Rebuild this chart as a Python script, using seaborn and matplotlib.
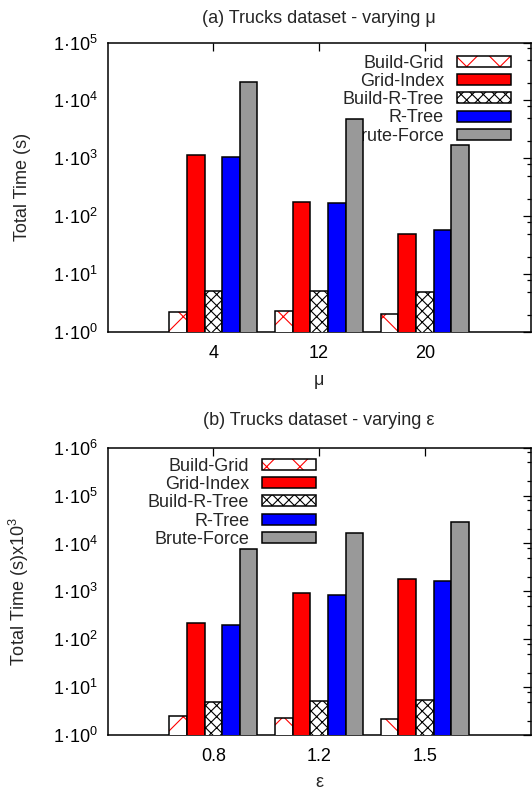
import numpy as np
import pandas as pd
import seaborn as sns
import matplotlib
matplotlib.use("Agg")
import matplotlib.pyplot as plt
import matplotlib.colors as mcolors
from matplotlib.ticker import LogLocator, FixedLocator, FuncFormatter, NullFormatter

methods = ["Build-Grid", "Grid-Index", "Build-R-Tree", "R-Tree", "Brute-Force"]
colors = ["white", "#ff0000", "white", "#0000ff", "#999999"]
hatches = ["x", "", "xxx", "", ""]

# (a) varying mu
mu_labels = ["4", "12", "20"]
mu_build_grid = [2.2, 2.3, 2.03]
mu_grid_index = [1150, 179, 49.7]
mu_build_rtree = [5.15, 5.15, 4.95]
mu_rtree = [1060, 167, 57]
mu_brute = [20400, 4700, 1680]

# (b) varying eps
eps_labels = ["0.8", "1.2", "1.5"]
eps_build_grid = [2.44, 2.22, 2.15]
eps_grid_index = [217, 925, 1800]
eps_build_rtree = [5.0, 5.1, 5.5]
eps_rtree = [200, 840, 1640]
eps_brute = [7700, 16500, 28000]

FS = 13

sns.set_style("white")
plt.rcParams["font.family"] = ["Liberation Sans", "DejaVu Sans"]
plt.rcParams["mathtext.fontset"] = "custom"
plt.rcParams["mathtext.rm"] = "Liberation Sans"
plt.rcParams["mathtext.it"] = "Liberation Sans:italic"
plt.rcParams["mathtext.bf"] = "Liberation Sans:bold"
plt.rcParams["mathtext.default"] = "regular"
plt.rcParams["hatch.linewidth"] = 0.8


def long_df(labels, series):
    rows = []
    for m, vals in zip(methods, series):
        for lab, v in zip(labels, vals):
            rows.append({"x": lab, "method": m, "time": v})
    return pd.DataFrame(rows)


def draw(ax, df, order, ymax_exp, title, title_pad, xlabel, xlab_y, ylabel, anchor):
    ax.set_yscale("log")
    sns.barplot(data=df, x="x", y="time", hue="method", order=order,
                hue_order=methods, palette=dict(zip(methods, colors)),
                width=5 / 6, errorbar=None, legend=False, saturation=1,
                edgecolor="black", linewidth=1.1, zorder=3, ax=ax)
    for cont, h in zip(ax.containers, hatches):
        for p in cont.patches:
            p.set_hatch(h)
            if h == "x":
                p._hatch_color = mcolors.to_rgba("red")
    ax.set_xlim(-1, 3)
    ax.set_ylim(1, 10 ** ymax_exp)
    ax.yaxis.set_major_locator(FixedLocator([10.0 ** k for k in range(ymax_exp + 1)]))
    ax.yaxis.set_minor_locator(LogLocator(base=10, subs=(2, 5, 8), numticks=20))
    ax.yaxis.set_minor_formatter(NullFormatter())
    ax.yaxis.set_major_formatter(
        FuncFormatter(lambda v, p: f"1·10$^{{{int(round(np.log10(v)))}}}$"))
    ax.tick_params(which="both", direction="in", top=True, right=True,
                   width=0.9, colors="black", labelsize=FS)
    ax.tick_params(which="major", length=5.8)
    ax.tick_params(which="minor", length=2.9)
    ax.tick_params(axis="x", pad=9)
    ax.tick_params(axis="y", pad=7)
    for s in ax.spines.values():
        s.set_visible(True)
        s.set_color("black")
        s.set_linewidth(1.1)
    ax.set_title(title, fontsize=FS, pad=title_pad)
    ax.set_xlabel(xlabel, fontsize=FS)
    ax.xaxis.set_label_coords(0.5, xlab_y)
    ax.set_ylabel(ylabel, fontsize=FS)
    ax.yaxis.set_label_coords(-0.18, 0.5)
    leg = ax.legend(ax.containers, methods, loc="upper right",
                    bbox_to_anchor=anchor, frameon=False, markerfirst=False,
                    handlelength=3.0, handleheight=0.55, handletextpad=0.7,
                    labelspacing=0.07, borderpad=0, borderaxespad=0, fontsize=FS)
    leg.set_zorder(1)


fig = plt.figure(figsize=(5.32, 7.9), dpi=100)
ax1 = fig.add_axes([0.2021, 0.5797, 0.7955, 0.3665])
ax2 = fig.add_axes([0.2021, 0.0696, 0.7955, 0.3637])

draw(ax1, long_df(mu_labels, [mu_build_grid, mu_grid_index, mu_build_rtree, mu_rtree, mu_brute]),
     mu_labels, 5, "(a) Trucks dataset - varying μ", 14, "μ", -0.137,
     "Total Time (s)", (0.953, 0.958))
draw(ax2, long_df(eps_labels, [eps_build_grid, eps_grid_index, eps_build_rtree, eps_rtree, eps_brute]),
     eps_labels, 6, "(b) Trucks dataset - varying ε", 16.5, "ε", -0.134,
     "Total Time (s)x10$^3$", (0.493, 0.965))

fig.savefig("out.png", dpi=100)
